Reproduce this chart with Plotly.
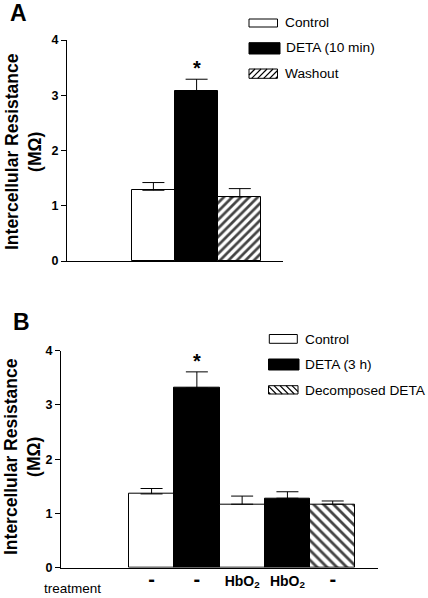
import plotly.graph_objects as go

# ---------------- data ----------------
a_groups = ["Control", "DETA (10 min)", "Washout"]
a_values = [1.28, 3.08, 1.16]
a_errors = [0.14, 0.21, 0.15]

b_groups = ["Control", "DETA (3 h)", "Control", "DETA (3 h)", "Decomposed DETA"]
b_values = [1.36, 3.31, 1.17, 1.28, 1.17]
b_errors = [0.10, 0.30, 0.15, 0.12, 0.06]
b_treatment = ["-", "-", "HbO<sub>2</sub>", "HbO<sub>2</sub>", "-"]

y_ticks = [0, 1, 2, 3, 4]
y_title = "Intercellular Resistance<br>(MΩ)"

W, H = 428, 598
FONT = "Liberation Sans, Arial, sans-serif"

fill_of = {"Control": "white", "DETA (10 min)": "black", "DETA (3 h)": "black",
           "Washout": "white", "Decomposed DETA": "white"}
pat_of = {"Control": "", "DETA (10 min)": "", "DETA (3 h)": "",
          "Washout": "/", "Decomposed DETA": "\\"}


def px(x):
    return x / W


def py(y):
    return 1 - y / H


def tick_text(t):
    if t == "-":
        return "<span style='font-size:20px;font-weight:bold'>-</span>"
    return t


fig = go.Figure()

a_x = list(range(2, 2 + len(a_values)))
b_x = list(range(2, 2 + len(b_values)))

fig.add_trace(go.Bar(
    x=a_x, y=a_values, width=1, xaxis="x", yaxis="y",
    marker=dict(color=[fill_of[g] for g in a_groups],
                line=dict(color="black", width=1),
                pattern=dict(shape=[pat_of[g] for g in a_groups], fgcolor="black",
                             fgopacity=1, size=6, solidity=0.45, fillmode="overlay")),
    error_y=dict(type="data", symmetric=False, array=a_errors,
                 arrayminus=[0] * len(a_errors), color="black", thickness=1, width=11),
    showlegend=False, hoverinfo="skip"))

fig.add_trace(go.Bar(
    x=b_x, y=b_values, width=1, xaxis="x2", yaxis="y2",
    marker=dict(color=[fill_of[g] for g in b_groups],
                line=dict(color="black", width=1),
                pattern=dict(shape=[pat_of[g] for g in b_groups], fgcolor="black",
                             fgopacity=1, size=7, solidity=0.4, fillmode="overlay")),
    error_y=dict(type="data", symmetric=False, array=b_errors,
                 arrayminus=[0] * len(b_errors), color="black", thickness=1, width=11),
    showlegend=False, hoverinfo="skip"))

yax = dict(range=[0, 4], tickvals=y_ticks, ticks="outside", ticklen=5, tickwidth=1,
           tickcolor="black", showline=True, linecolor="black", linewidth=1,
           showgrid=False, zeroline=False, automargin=False,
           tickfont=dict(family=FONT, size=12.5, color="black", weight="bold"))

fig.update_layout(
    width=W, height=H, margin=dict(l=0, r=0, t=0, b=0, pad=0, autoexpand=False),
    paper_bgcolor="white", plot_bgcolor="white",
    bargap=0, showlegend=False,
    xaxis=dict(domain=[px(67), px(283)], anchor="y", range=[0, 5], showline=True,
               linecolor="black", linewidth=1, showgrid=False, zeroline=False,
               showticklabels=False, ticks="", automargin=False),
    yaxis=dict(domain=[py(261), py(40)], anchor="x", **yax),
    xaxis2=dict(domain=[px(61), px(378)], anchor="y2", range=[0, 7], showline=True,
                linecolor="black", linewidth=1, showgrid=False, zeroline=False,
                tickvals=b_x, ticktext=[tick_text(t) for t in b_treatment], ticks="",
                automargin=False,
                tickfont=dict(family=FONT, size=14, color="black", weight="bold")),
    yaxis2=dict(domain=[py(567.7), py(350.7)], anchor="x2", **yax),
    font=dict(family=FONT, color="black"),
)

ann = []
ann.append(dict(text="A", x=px(18), y=py(12.5), xref="paper", yref="paper",
                xanchor="center", yanchor="middle",
                showarrow=False, font=dict(size=23, family=FONT, weight="bold")))
ann.append(dict(text="B", x=px(21), y=py(322), xref="paper", yref="paper",
                xanchor="center", yanchor="middle",
                showarrow=False, font=dict(size=23, family=FONT, weight="bold")))
for cx, cy in ((23, 152), (22, 457)):
    ann.append(dict(text=y_title, x=px(cx), y=py(cy), xref="paper",
                    yref="paper", showarrow=False, textangle=-90,
                    xanchor="center", yanchor="middle",
                    font=dict(size=17.5, family=FONT, weight="bold")))
ia = a_values.index(max(a_values))
ann.append(dict(text="*", x=a_x[ia], y=a_values[ia] + a_errors[ia], xref="x", yref="y",
                showarrow=False, yanchor="middle", yshift=11,
                font=dict(size=20, family=FONT, weight="bold")))
ib = b_values.index(max(b_values))
ann.append(dict(text="*", x=b_x[ib], y=b_values[ib] + b_errors[ib], xref="x2", yref="y2",
                showarrow=False, yanchor="middle", yshift=11,
                font=dict(size=20, family=FONT, weight="bold")))
ann.append(dict(text="treatment", x=px(41.5), y=py(588), xref="paper", yref="paper",
                xanchor="left", yanchor="middle", showarrow=False,
                font=dict(size=13.5, family=FONT)))

shapes = []


def hatch_box(x0, y0, x1, y1, direction, step):
    out = [dict(type="rect", xref="paper", yref="paper", x0=px(x0), x1=px(x1),
                y0=py(y0), y1=py(y1), line=dict(color="black", width=1),
                fillcolor="white")]
    h = y1 - y0
    k = x0 - h
    while k < x1:
        sx, sy, ex, ey = k, y1, k + h, y0
        if sx < x0:
            sy = y1 - (x0 - sx)
            sx = x0
        if ex > x1:
            ey = y0 + (ex - x1)
            ex = x1
        if ex > sx:
            if direction == "/":
                out.append(dict(type="line", xref="paper", yref="paper", x0=px(sx), y0=py(sy),
                                x1=px(ex), y1=py(ey), line=dict(color="black", width=1.2)))
            else:
                mx0 = x0 + x1 - sx
                mx1 = x0 + x1 - ex
                out.append(dict(type="line", xref="paper", yref="paper", x0=px(mx0), y0=py(sy),
                                x1=px(mx1), y1=py(ey), line=dict(color="black", width=1.2)))
        k += step
    return out


def legend(entries):
    for (x0, y0, x1, y1, kind, label, tx, ty) in entries:
        if kind in ("white", "black"):
            shapes.append(dict(type="rect", xref="paper", yref="paper", x0=px(x0), x1=px(x1),
                               y0=py(y0), y1=py(y1), line=dict(color="black", width=1),
                               fillcolor=kind))
        else:
            shapes.extend(hatch_box(x0, y0, x1, y1, kind, 6))
        ann.append(dict(text=label, x=px(tx), y=py(ty), xref="paper", yref="paper",
                        xanchor="left", yanchor="middle", showarrow=False,
                        font=dict(size=13.7, family=FONT)))


legend([
    (249, 19, 277.5, 27, "white", a_groups[0], 283, 23),
    (249, 42.7, 280, 54, "black", a_groups[1], 284, 48),
    (249, 69, 277.5, 78.3, "/", a_groups[2], 283, 73.5),
])
legend([
    (269.3, 334.5, 297.3, 343.3, "white", "Control", 303, 339),
    (268.5, 359, 299, 370, "black", "DETA (3 h)", 303, 364.5),
    (268.5, 385.7, 298, 394, "\\", "Decomposed DETA", 303, 390),
])

fig.update_layout(annotations=ann, shapes=shapes)
fig.write_html("out.html", config={"displayModeBar": False},
               post_script="document.body.style.margin='0';document.body.style.overflow='hidden';")
